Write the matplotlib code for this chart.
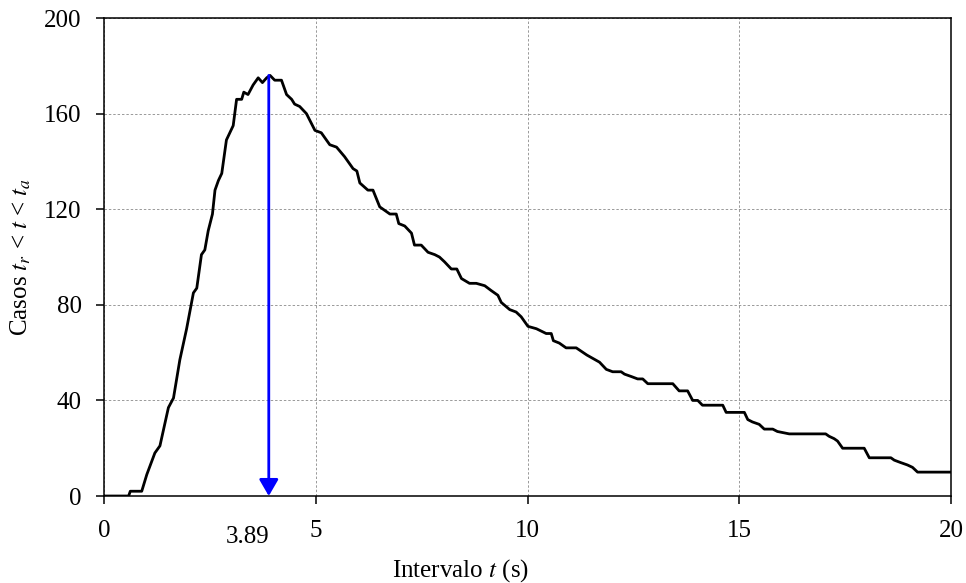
import matplotlib.pyplot as plt

plt.rcParams['font.family'] = ['Liberation Serif', 'DejaVu Serif']
plt.rcParams['mathtext.fontset'] = 'stix'

# cumulative cases inside the interval, read along t (s)
t_vals = [0.0, 0.58, 0.62, 0.89, 1.01, 1.20, 1.32, 1.52, 1.64, 1.79, 1.95, 2.11, 2.19,
          2.30, 2.38, 2.46, 2.56, 2.62, 2.70, 2.78, 2.89, 3.05, 3.13, 3.25, 3.30, 3.40,
          3.52, 3.64, 3.74, 3.84, 3.92, 4.03, 4.19, 4.31, 4.43, 4.50, 4.62, 4.78, 4.98,
          5.13, 5.33, 5.49, 5.68, 5.80, 5.88, 5.97, 6.04, 6.23, 6.35, 6.51, 6.75, 6.90,
          6.96, 7.10, 7.26, 7.33, 7.49, 7.65, 7.81, 7.92, 8.04, 8.20, 8.33, 8.44, 8.63,
          8.79, 8.99, 9.14, 9.30, 9.38, 9.58, 9.73, 9.85, 10.01, 10.21, 10.44, 10.56,
          10.61, 10.75, 10.91, 11.15, 11.40, 11.70, 11.86, 12.01, 12.21, 12.29, 12.45,
          12.60, 12.72, 12.84, 13.43, 13.58, 13.78, 13.90, 14.02, 14.13, 14.61, 14.69,
          15.12, 15.20, 15.31, 15.47, 15.59, 15.79, 15.90, 16.18, 17.04, 17.12, 17.24,
          17.32, 17.44, 17.95, 18.07, 18.58, 18.66, 18.81, 18.97, 19.09, 19.21, 20.0]
casos = [0, 0, 2, 2, 9, 18, 21, 37, 41, 57, 70, 85, 87,
         101, 103, 111, 118, 128, 132, 135, 149, 155, 166, 166, 169, 168,
         172, 175, 173, 175, 176, 174, 174, 168, 166, 164, 163, 160, 153,
         152, 147, 146, 142, 139, 137, 136, 131, 128, 128, 121, 118, 118,
         114, 113, 110, 105, 105, 102, 101, 100, 98, 95, 95, 91, 89,
         89, 88, 86, 84, 81, 78, 77, 75, 71, 70, 68, 68,
         65, 64, 62, 62, 59, 56, 53, 52, 52, 51, 50,
         49, 49, 47, 47, 44, 44, 40, 40, 38, 38, 35,
         35, 32, 31, 30, 28, 28, 27, 26, 26, 25, 24,
         23, 20, 20, 16, 16, 15, 14, 13, 12, 10, 10]

t_pico = 3.89
casos_pico = 176

fig = plt.figure(figsize=(9.66, 5.83), dpi=100)
ax = fig.add_axes([0.1077, 0.1492, 0.8768, 0.8198])

ax.plot(t_vals, casos, color='black', linewidth=2.0, zorder=3)

ax.annotate('', xy=(t_pico, 0), xytext=(t_pico, casos_pico),
            arrowprops=dict(arrowstyle='-|>,head_length=1.0,head_width=0.58',
                            color='blue', linewidth=2.0, shrinkA=0, shrinkB=0,
                            mutation_scale=10),
            zorder=4)

ax.set_xlim(0, 20)
ax.set_ylim(0, 200)
ax.set_xticks([0, 5, 10, 15, 20])
ax.set_yticks(range(0, 201, 40))
ax.tick_params(direction='out', length=6, width=1.1, labelsize=18,
               top=False, right=False)
ax.tick_params(axis='x', pad=11)
ax.tick_params(axis='y', pad=10)
ax.grid(True, color='gray', linestyle=(0, (2.5, 2)), linewidth=0.7, alpha=0.8)
ax.set_axisbelow(True)
for sp in ax.spines.values():
    sp.set_linewidth(1.1)

# peak time label, set a little to the left of the arrow
ax.annotate(f'{t_pico:.2f}', xy=(t_pico, -0.062), xycoords=ax.get_xaxis_transform(),
            xytext=(-15, 0), textcoords='offset points',
            ha='center', va='top', fontsize=18)

ax.set_xlabel('Intervalo $t$ (s)', fontsize=18)
ax.xaxis.set_label_coords(0.421, -0.127)
ax.set_ylabel('Casos $t_r$ < $t$ < $t_a$', fontsize=18, labelpad=8)

fig.savefig('out.png', dpi=100)
